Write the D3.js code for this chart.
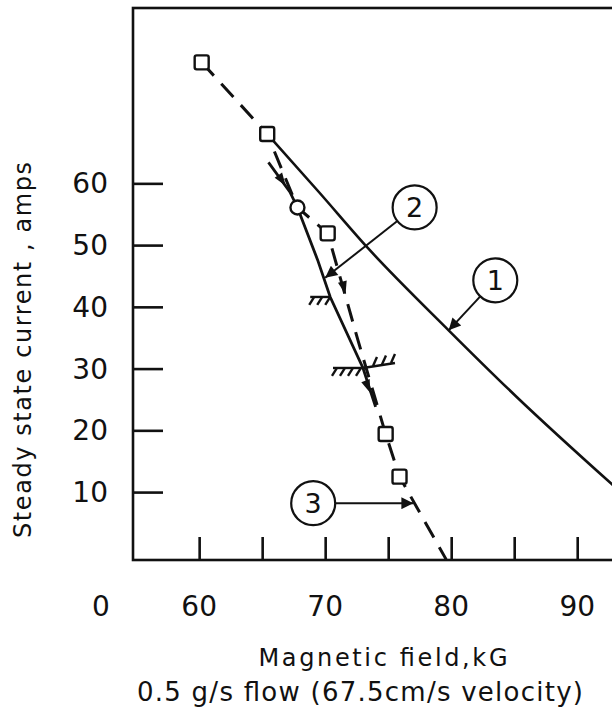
<!DOCTYPE html>
<html>
<head>
<meta charset="utf-8">
<script src="https://cdn.jsdelivr.net/npm/d3@7"></script>
<style>
  html, body { margin: 0; padding: 0; background: #fff; }
  svg { display: block; }
  text { font-family: "DejaVu Sans", "Noto Sans", sans-serif; fill: #111; }
</style>
</head>
<body>
<svg id="chart" width="612" height="714"></svg>
<script>
// ---------------- data ----------------
const xTicks = [60, 65, 70, 75, 80, 85, 90];
const xTickLabels = [60, 70, 80, 90];
const yTicks = [10, 20, 30, 40, 50, 60];

// Curve 1 (solid)
const curve1Field = [65.4, 69.5, 73.4, 79.8, 85.2, 92.9];
const curve1Current = [68.0, 58.6, 49.5, 36.2, 25.4, 11.0];

// Curve 2 (solid, circle marker, hatched limits)
const curve2Field = [65.5, 67.2, 67.8, 69.4, 70.4, 73.0, 74.0];
const curve2Current = [63.4, 58.6, 56.1, 47.6, 41.6, 30.1, 23.8];
const curve2Marker = [[67.8, 56.1]];
const curve2Hatch = [[70.4, 41.6], [73.0, 30.1]];

// Curve 3 (dashed, square markers)
const curve3Field = [60.2, 65.4, 67.8, 70.2, 72.6, 74.8, 75.9, 79.6];
const curve3Current = [79.6, 68.0, 56.1, 51.9, 34.6, 19.4, 12.5, -0.9];
const curve3Squares = [[60.2, 79.6], [65.4, 68.0], [70.2, 51.9], [74.8, 19.4], [75.9, 12.5]];

// small direction arrowheads drawn on the curves: [field, current, direction field, direction current]
const flowArrows = [[66.6, 60.4, 67.2, 58.6], [71.5, 43.0, 72.0, 39.0], [73.4, 27.0, 74.0, 23.8]];

// Callout labels
const calloutNames = ["1", "2", "3"];
const calloutCircle = [[83.5, 44.3], [77.1, 56.1], [69.05, 8.2]];
const calloutTip = [[79.8, 36.2], [70.0, 44.7], [77.0, 8.2]];

// ---------------- layout ----------------
const svg = d3.select("#chart");
const mLeft = 133, mRight = 615, mTop = 8, mBottom = 560;
const x = d3.scaleLinear().domain([54.75, 93]).range([mLeft, mRight]);
const y = d3.scaleLinear().domain([-1, 88.4]).range([mBottom, mTop]);
const ink = "#111";

// frame
svg.append("rect").attr("x", mLeft).attr("y", mTop)
  .attr("width", mRight - mLeft).attr("height", mBottom - mTop)
  .attr("fill", "none").attr("stroke", ink).attr("stroke-width", 2.6);

// x ticks (inward, upward)
const xAxis = d3.axisTop(x).tickValues(xTicks).tickSize(23).tickFormat("");
const gx = svg.append("g").attr("transform", `translate(0,${mBottom})`).call(xAxis);
gx.select(".domain").remove();
gx.selectAll("line").attr("stroke", ink).attr("stroke-width", 2.6);

// y ticks (inward, rightward)
const yAxis = d3.axisRight(y).tickValues(yTicks).tickSize(30).tickFormat("");
const gy = svg.append("g").attr("transform", `translate(${mLeft},0)`).call(yAxis);
gy.select(".domain").remove();
gy.selectAll("line").attr("stroke", ink).attr("stroke-width", 2.6);

// tick labels
svg.append("g").selectAll("text").data(xTickLabels).join("text")
  .attr("x", d => x(d)).attr("y", 616)
  .attr("text-anchor", "middle").attr("font-size", 28).text(d => d);
svg.append("text").attr("x", 101).attr("y", 616)
  .attr("text-anchor", "middle").attr("font-size", 28).text("0");
svg.append("g").selectAll("text").data(yTicks).join("text")
  .attr("x", 108).attr("y", d => y(d) + 10)
  .attr("text-anchor", "end").attr("font-size", 28).text(d => d);

// axis titles
svg.append("text").attr("x", 383).attr("y", 666)
  .attr("text-anchor", "middle").attr("font-size", 24)
  .attr("textLength", 249).attr("lengthAdjust", "spacing")
  .text("Magnetic field,kG");
svg.append("text").attr("x", 360).attr("y", 701)
  .attr("text-anchor", "middle").attr("font-size", 26)
  .attr("textLength", 446).attr("lengthAdjust", "spacing")
  .text("0.5 g/s flow (67.5cm/s velocity)");
svg.append("text")
  .attr("transform", "translate(31,350) rotate(-90)")
  .attr("text-anchor", "middle").attr("font-size", 24)
  .attr("textLength", 376).attr("lengthAdjust", "spacing")
  .text("Steady state current , amps");

// ---------------- curves ----------------
const c1 = curve1Field.map((f, i) => [f, curve1Current[i]]);
const c2 = curve2Field.map((f, i) => [f, curve2Current[i]]);
const c3 = curve3Field.map((f, i) => [f, curve3Current[i]]);

svg.append("path").attr("d", d3.line().x(d => x(d[0])).y(d => y(d[1])).curve(d3.curveMonotoneX)(c1))
  .attr("fill", "none").attr("stroke", ink).attr("stroke-width", 2.6);
svg.append("path").attr("d", d3.line().x(d => x(d[0])).y(d => y(d[1]))(c3))
  .attr("fill", "none").attr("stroke", ink).attr("stroke-width", 3)
  .attr("stroke-dasharray", "18,11");
svg.append("path").attr("d", d3.line().x(d => x(d[0])).y(d => y(d[1]))(c2))
  .attr("fill", "none").attr("stroke", ink).attr("stroke-width", 2.8);

// small flow arrowheads
flowArrows.forEach(a => {
  const px = x(a[0]), py = y(a[1]);
  const ang = Math.atan2(y(a[3]) - py, x(a[2]) - px) * 180 / Math.PI;
  svg.append("path").attr("d", "M6,0 L-7,-4.5 L-7,4.5 Z")
    .attr("transform", `translate(${px},${py}) rotate(${ang})`)
    .attr("fill", ink);
});

// hatch marks on curve 2
curve2Hatch.forEach((h, i) => {
  const cx = x(h[0]), cy = y(h[1]);
  const g = svg.append("g").attr("stroke", ink).attr("stroke-width", 2.4).attr("fill", "none");
  const lw = i === 0 ? 20 : 30;
  g.append("line").attr("x1", cx - lw).attr("y1", cy).attr("x2", cx).attr("y2", cy);
  for (let k = 0; k < (i === 0 ? 3 : 4); k++) {
    const hx = cx - lw + 4 + k * 8;
    g.append("line").attr("x1", hx).attr("y1", cy).attr("x2", hx - 5).attr("y2", cy + 8);
  }
  if (i === 1) {
    g.append("line").attr("x1", cx).attr("y1", cy).attr("x2", cx + 32).attr("y2", cy - 5);
    for (let k = 0; k < 3; k++) {
      const hx = cx + 10 + k * 9;
      g.append("line").attr("x1", hx).attr("y1", cy - 2 - k * 1.5).attr("x2", hx + 4).attr("y2", cy - 11 - k * 1.5);
    }
  }
});

// markers
svg.append("g").selectAll("rect").data(curve3Squares).join("rect")
  .attr("x", d => x(d[0]) - 7).attr("y", d => y(d[1]) - 7)
  .attr("width", 14).attr("height", 14).attr("rx", 2)
  .attr("fill", "#fff").attr("stroke", ink).attr("stroke-width", 2.4);
svg.append("g").selectAll("circle").data(curve2Marker).join("circle")
  .attr("cx", d => x(d[0])).attr("cy", d => y(d[1])).attr("r", 7)
  .attr("fill", "#fff").attr("stroke", ink).attr("stroke-width", 2.4);

// callouts
const defs = svg.append("defs");
defs.append("marker").attr("id", "arr").attr("viewBox", "0 0 10 10")
  .attr("refX", 10).attr("refY", 5).attr("markerWidth", 18).attr("markerHeight", 12)
  .attr("markerUnits", "userSpaceOnUse").attr("orient", "auto")
  .append("path").attr("d", "M0,0 L10,5 L0,10 Z").attr("fill", ink);

calloutNames.forEach((n, i) => {
  const cx = x(calloutCircle[i][0]), cy = y(calloutCircle[i][1]);
  const tx = x(calloutTip[i][0]), ty = y(calloutTip[i][1]);
  const r = 22;
  const ang = Math.atan2(ty - cy, tx - cx);
  svg.append("line")
    .attr("x1", cx + r * Math.cos(ang)).attr("y1", cy + r * Math.sin(ang))
    .attr("x2", tx).attr("y2", ty)
    .attr("stroke", ink).attr("stroke-width", 2).attr("marker-end", "url(#arr)");
  svg.append("circle").attr("cx", cx).attr("cy", cy).attr("r", r)
    .attr("fill", "#fff").attr("stroke", ink).attr("stroke-width", 2.2);
  svg.append("text").attr("x", cx).attr("y", cy + 10)
    .attr("text-anchor", "middle").attr("font-size", 27).text(n);
});
</script>
</body>
</html>
